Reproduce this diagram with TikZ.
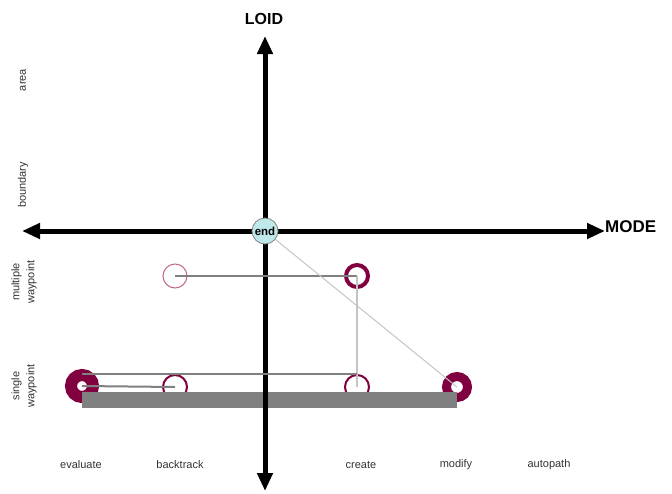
\documentclass[tikz,border=0pt]{standalone}
\usepackage{fontspec}
\setmainfont{Liberation Sans}
\usetikzlibrary{arrows.meta}
\definecolor{maroon}{HTML}{800040}
\definecolor{pinkish}{HTML}{C0668C}
\definecolor{linegray}{HTML}{808080}
\definecolor{lightline}{HTML}{C4C4C4}
\definecolor{endfill}{HTML}{BFE8EA}
\definecolor{txt}{HTML}{333333}
\tikzset{
  axis/.style={line width=5pt,-{Triangle[length=18pt,width=15pt]}},
  lab/.style={font=\fontsize{11}{15}\selectfont,text=txt,inner sep=0pt},
  vlab/.style={lab,rotate=90,align=center},
  conn/.style={draw=linegray,line width=2pt},
  thinconn/.style={draw=lightline,line width=1.2pt},
  wp/.style={circle,draw=maroon,inner sep=0pt},
}
\begin{document}
\begin{tikzpicture}[x=1pt,y=-1pt]
\useasboundingbox (0,0) rectangle (672,493);
% waypoint circles
\node[wp,draw=pinkish,line width=1pt,minimum size=24pt] (bm) at (175,276) {};
\node[wp,line width=4pt,minimum size=22pt] (cm) at (357,276) {};
\node[wp,line width=12pt,minimum size=22pt] (ev) at (82,386) {};
\node[wp,line width=2pt,minimum size=24pt] (bs) at (175,387) {};
\node[wp,line width=2pt,minimum size=24pt] (cs) at (357,387) {};
\node[wp,line width=9pt,minimum size=21pt] (mo) at (457,387) {};
% bar
\fill[linegray] (82,392) rectangle (457,408);
% axes
\coordinate (o) at (265,231);
\coordinate (top) at (265,36);
\coordinate (bot) at (265,491);
\coordinate (lft) at (22,231);
\coordinate (rgt) at (605,231);
\draw[axis] (o) -- (top);
\draw[axis] (o) -- (bot);
\draw[axis] (o) -- (lft);
\draw[axis] (o) -- (rgt);
% connectors
\draw[conn] (bm.center) -- (cm.center);
\draw[thinconn] (cm.center) -- (cs.center);
\draw[conn] (82,374) -- (357,374);
\draw[conn] (ev.center) -- (bs.center);
\draw[draw=lightline,line width=1pt] (o) -- (mo.center);
% end node
\node[circle,draw=gray,fill=endfill,line width=0.8pt,minimum size=26pt,inner sep=0pt,font=\bfseries\fontsize{11.5}{12}\selectfont] (end) at (o) {end};
% axis titles
\node[font=\bfseries\fontsize{16}{18}\selectfont,inner sep=0pt] (loid) at (264,19) {LOID};
\node[font=\bfseries\fontsize{17}{19}\selectfont,inner sep=0pt,anchor=west] (mode) at (605,227) {MODE};
% mode labels
\node[lab] (l1) at (81,465) {evaluate};
\node[lab] (l2) at (180,465) {backtrack};
\node[lab] (l3) at (361,465) {create};
\node[lab] (l4) at (456,465) {modify};
\node[lab] (l5) at (549,465) {autopath};
% loid labels
\node[vlab] (v1) at (23,80) {area};
\node[vlab] (v2) at (23,185) {boundary};
\node[vlab] (v3) at (24,282) {multiple\\waypoint};
\node[vlab] (v4) at (24,386) {single\\waypoint};
\end{tikzpicture}
\end{document}
